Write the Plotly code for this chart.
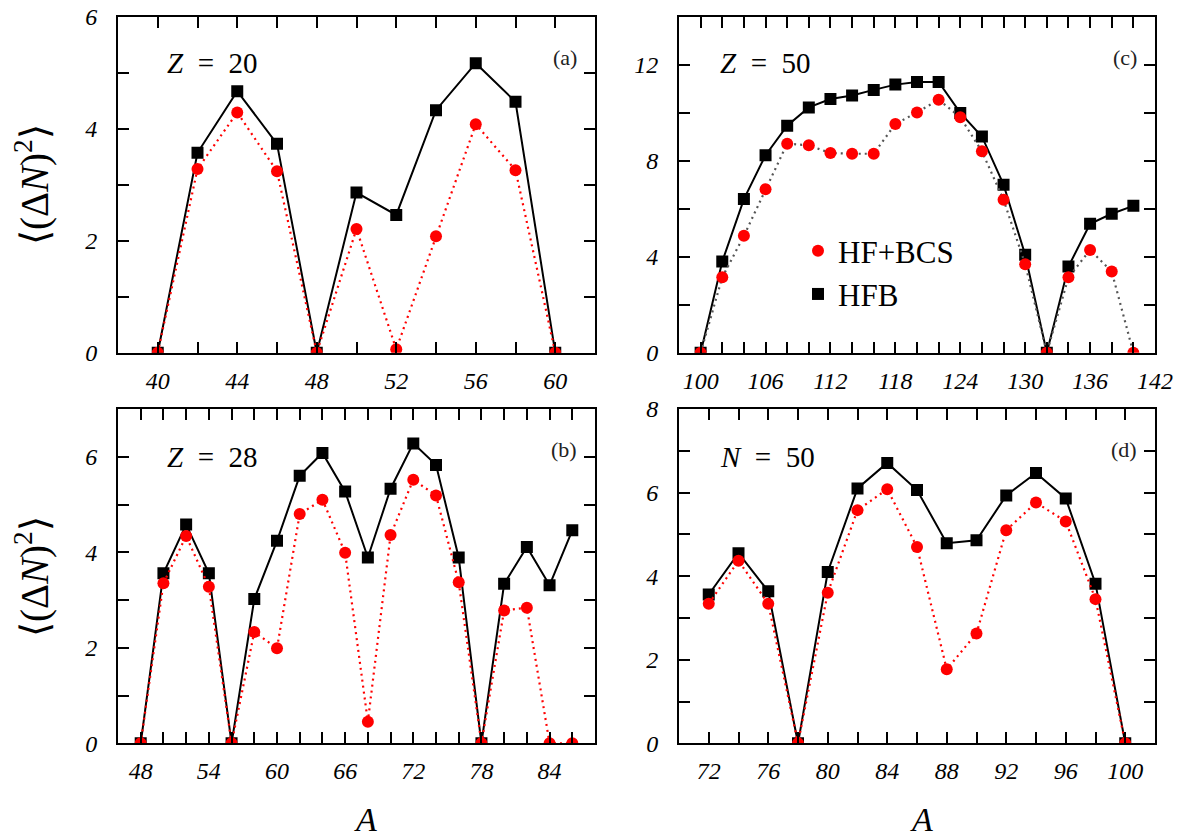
import plotly.graph_objects as go

# ---- particle-number fluctuations <(ΔN)^2> vs mass number A ----
# (a) Z = 20
A_z20 = [40, 42, 44, 46, 48, 50, 52, 54, 56, 58, 60]
hfb_z20 = [0.0, 3.57, 4.67, 3.73, 0.0, 2.86, 2.46, 4.33, 5.17, 4.48, 0.0]
bcs_z20 = [0.0, 3.28, 4.29, 3.24, 0.0, 2.21, 0.06, 2.08, 4.08, 3.26, 0.0]

# (b) Z = 28
A_z28 = [48, 50, 52, 54, 56, 58, 60, 62, 64, 66, 68, 70, 72, 74, 76, 78, 80, 82, 84, 86]
hfb_z28 = [0.0, 3.56, 4.58, 3.56, 0.0, 3.02, 4.24, 5.60, 6.08, 5.27, 3.89, 5.33,
           6.28, 5.83, 3.89, 0.0, 3.34, 4.11, 3.31, 4.46]
bcs_z28 = [0.0, 3.35, 4.34, 3.28, 0.0, 2.33, 1.99, 4.80, 5.10, 3.99, 0.45, 4.36,
           5.52, 5.19, 3.37, 0.0, 2.78, 2.84, 0.0, 0.0]

# (c) Z = 50
A_z50 = [100, 102, 104, 106, 108, 110, 112, 114, 116, 118, 120, 122, 124, 126,
         128, 130, 132, 134, 136, 138, 140]
hfb_z50 = [0.0, 3.80, 6.40, 8.23, 9.46, 10.22, 10.57, 10.72, 10.95, 11.17, 11.28,
           11.28, 9.99, 9.01, 7.00, 4.08, 0.0, 3.59, 5.37, 5.79, 6.12]
bcs_z50 = [0.0, 3.14, 4.87, 6.81, 8.71, 8.64, 8.32, 8.29, 8.29, 9.53, 10.01,
           10.54, 9.81, 8.39, 6.37, 3.69, 0.0, 3.14, 4.28, 3.38, 0.0]

# (d) N = 50
A_n50 = [72, 74, 76, 78, 80, 82, 84, 86, 88, 90, 92, 94, 96, 98, 100]
hfb_n50 = [3.56, 4.55, 3.64, 0.0, 4.10, 6.10, 6.71, 6.06, 4.79, 4.86, 5.93, 6.47,
           5.86, 3.82, 0.0]
bcs_n50 = [3.34, 4.37, 3.34, 0.0, 3.60, 5.58, 6.08, 4.70, 1.77, 2.63, 5.10, 5.76,
           5.31, 3.45, 0.0]

SP = "&nbsp;"
panel_titles = [f"<i>Z</i>{SP*2}={SP*2}20", f"<i>Z</i>{SP*2}={SP*2}50",
                f"<i>Z</i>{SP*2}={SP*2}28", f"<i>N</i>{SP*2}={SP*2}50"]
panel_tags = ["(a)", "(c)", "(b)", "(d)"]

# ---- styling ----
SERIF = "Liberation Serif"
RED = "#ff0000"
W, H = 1180, 840

# panel boxes in pixels: left, right, top, bottom
boxes = {
    "a": (118, 595, 16.7, 352.7),
    "c": (679, 1155, 16.7, 352.7),
    "b": (118, 595, 409, 743.3),
    "d": (679, 1155, 409, 743.3),
}

panels = [
    # key, A, hfb, bcs, x-range, x ticks, x labels, y-range, y ticks, y labels, dotted colour
    ("a", A_z20, hfb_z20, bcs_z20, [38, 62], list(range(40, 61, 2)), list(range(40, 61, 4)),
     [0, 6], list(range(0, 7)), [0, 2, 4, 6], RED),
    ("c", A_z50, hfb_z50, bcs_z50, [98, 142], list(range(100, 143, 2)), list(range(100, 143, 6)),
     [0, 14], list(range(0, 15, 2)), [0, 4, 8, 12], "#555555"),
    ("b", A_z28, hfb_z28, bcs_z28, [46, 88], list(range(48, 87, 2)), list(range(48, 85, 6)),
     [0, 7], list(range(0, 8)), [0, 2, 4, 6], RED),
    ("d", A_n50, hfb_n50, bcs_n50, [70, 102], list(range(72, 101, 2)), list(range(72, 101, 4)),
     [0, 8], list(range(0, 9)), [0, 2, 4, 6, 8], RED),
]

fig = go.Figure()
layout_axes = {}
annotations = []

for i, (key, A, hfb, bcs, xr, xt, xl, yr, yt, yl, dotcol) in enumerate(panels):
    n = i + 1
    xs = "" if n == 1 else str(n)
    xref, yref = "x" + xs, "y" + xs
    l, r, t, b = boxes[key]

    fig.add_trace(go.Scatter(
        x=A, y=hfb, mode="lines+markers", xaxis=xref, yaxis=yref, showlegend=False,
        line=dict(color="black", width=2),
        marker=dict(symbol="square", size=12, color="black"),
    ))
    fig.add_trace(go.Scatter(
        x=A, y=bcs, mode="lines+markers", xaxis=xref, yaxis=yref, showlegend=False,
        line=dict(color=dotcol, width=2.2, dash="2px,4px"),
        marker=dict(symbol="circle", size=12, color=RED),
    ))

    axis_common = dict(
        showgrid=False, zeroline=False, showline=True, linecolor="black", linewidth=2,
        mirror="allticks", ticks="inside", ticklen=11, tickwidth=2, tickcolor="black",
        automargin=False,
        tickfont=dict(family=SERIF, size=24, color="black", style="italic"),
    )
    layout_axes["xaxis" + xs] = dict(
        axis_common, domain=[l / W, r / W], range=xr, anchor=yref,
        tickmode="array", tickvals=xt, ticktext=[str(v) if v in xl else "" for v in xt],
        ticklabelstandoff=5,
    )
    layout_axes["yaxis" + xs] = dict(
        axis_common, domain=[1 - b / H, 1 - t / H], range=yr, anchor=xref,
        tickmode="array", tickvals=yt, ticktext=[str(v) if v in yl else "" for v in yt],
        ticklabelstandoff=14,
    )

    # panel title and tag
    annotations.append(dict(
        xref=xref + " domain", yref=yref + " domain", x=0.098 if key in "ab" else 0.082,
        y=0.862 if key in "ac" else 0.856, xanchor="left", yanchor="middle",
        text=panel_titles[i], showarrow=False,
        font=dict(family=SERIF, size=29, color="black"),
    ))
    annotations.append(dict(
        xref=xref + " domain", yref=yref + " domain", x=0.966, y=0.88,
        xanchor="right", yanchor="middle", text=panel_tags[i], showarrow=False,
        font=dict(family=SERIF, size=22, color="#222222"),
    ))

# legend entries (marker symbols only) shown inside panel (c)
fig.add_trace(go.Scatter(x=[None], y=[None], mode="markers", name="HF+BCS",
                         xaxis="x2", yaxis="y2",
                         marker=dict(symbol="circle", size=12, color=RED)))
fig.add_trace(go.Scatter(x=[None], y=[None], mode="markers", name="HFB",
                         xaxis="x2", yaxis="y2",
                         marker=dict(symbol="square", size=12, color="black")))

# axis titles
ytitle = "⟨(Δ<i>N</i>)<sup>2</sup>⟩"
for yc in (185, 577):
    annotations.append(dict(
        xref="paper", yref="paper", x=32 / W, y=1 - yc / H, xanchor="center",
        yanchor="middle", textangle=-90, text=ytitle, showarrow=False,
        font=dict(family=SERIF, size=39, color="black"),
    ))
for xc in (365, 921):
    annotations.append(dict(
        xref="paper", yref="paper", x=xc / W, y=1 - 819 / H, xanchor="center",
        yanchor="middle", text="<i>A</i>", showarrow=False,
        font=dict(family=SERIF, size=34, color="black"),
    ))

fig.update_layout(
    width=W, height=H,
    margin=dict(l=0, r=0, t=0, b=0, autoexpand=False),
    paper_bgcolor="white", plot_bgcolor="white",
    showlegend=True,
    legend=dict(
        x=798 / W, y=1 - 224 / H, xanchor="left", yanchor="top",
        bgcolor="rgba(0,0,0,0)", borderwidth=0,
        font=dict(family=SERIF, size=31, color="black"),
        itemsizing="constant", tracegroupgap=0,
    ),
    annotations=annotations,
    **layout_axes,
)

fig.write_html("out.html")
